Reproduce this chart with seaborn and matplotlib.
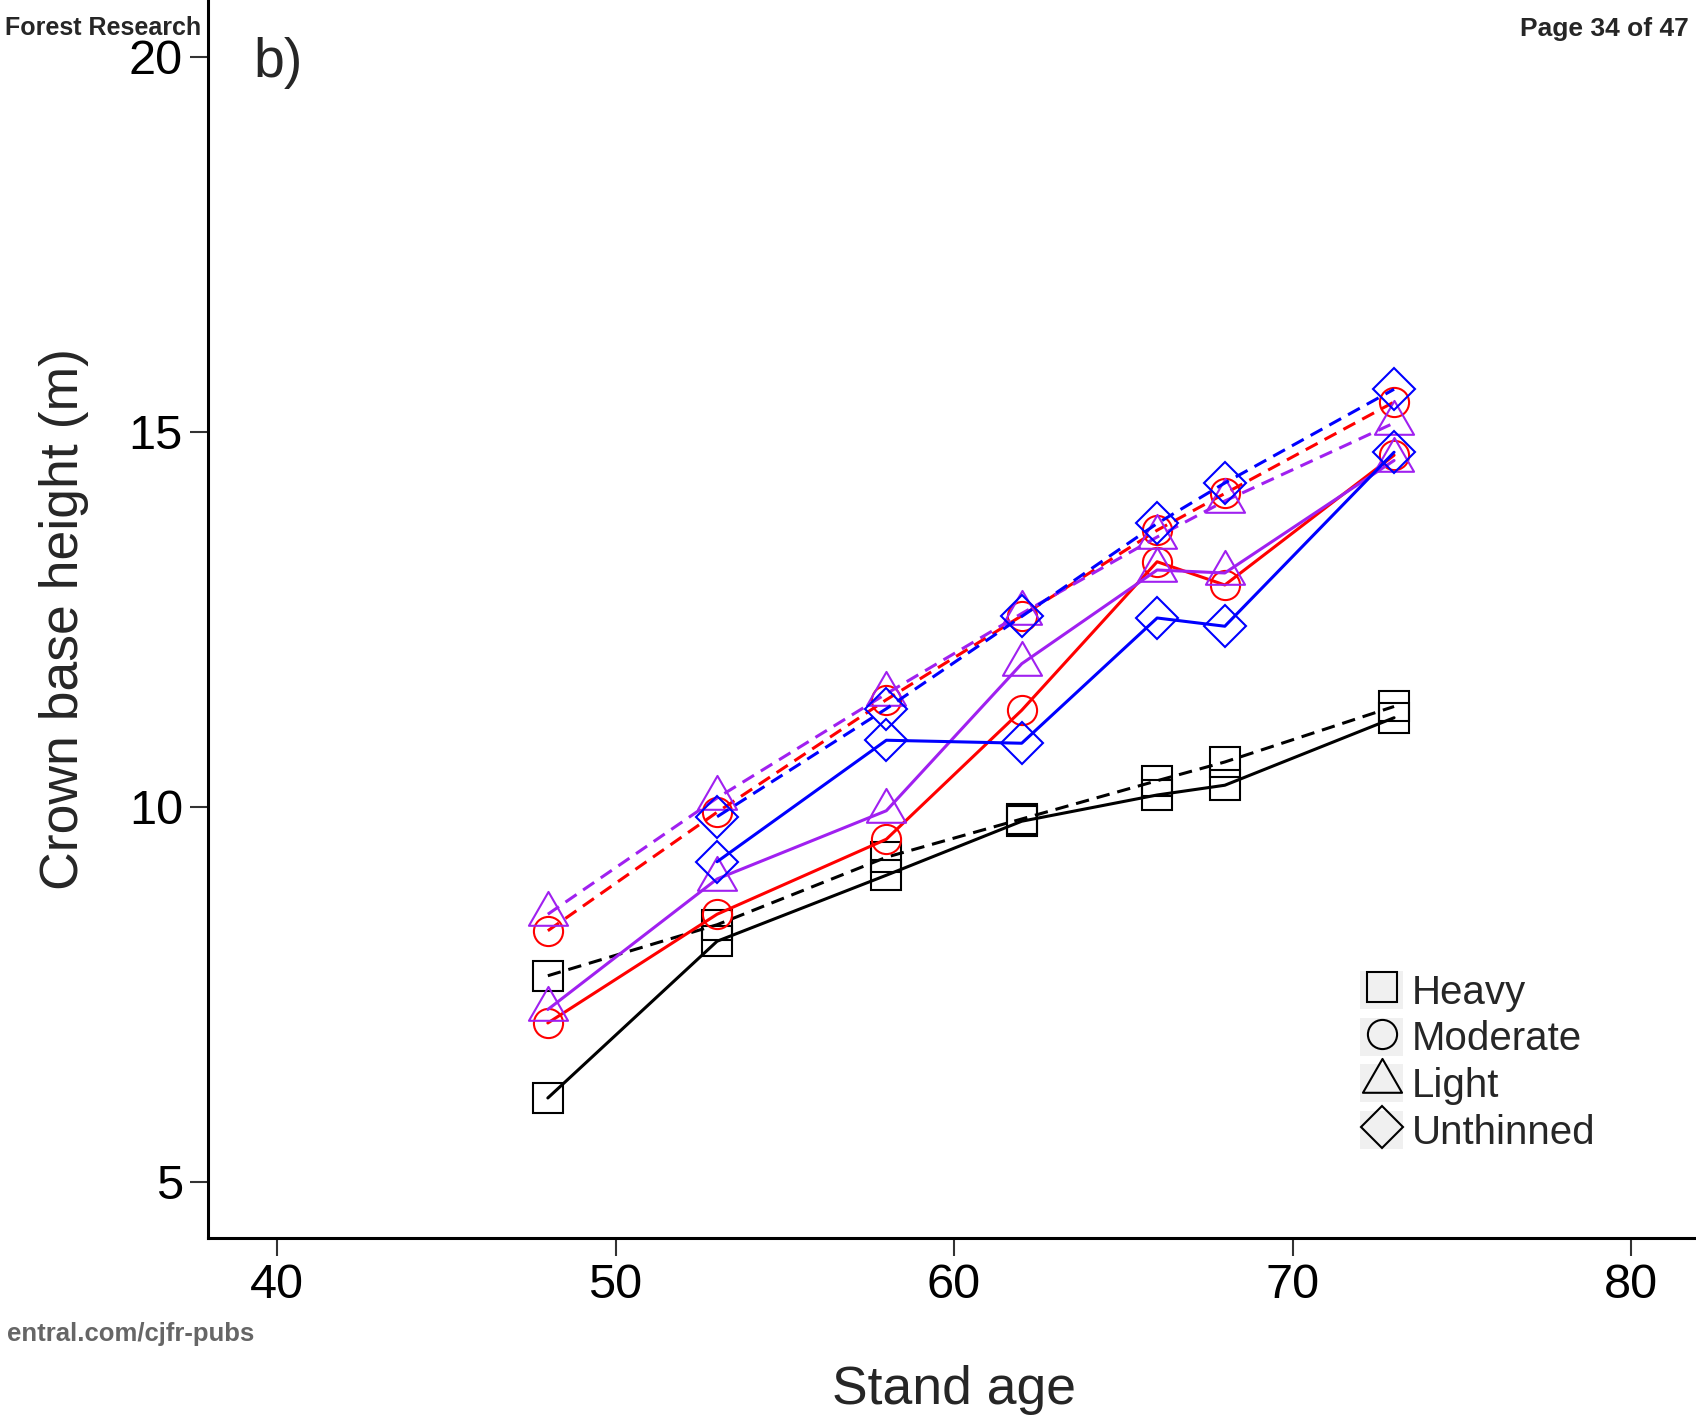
import numpy as np
import pandas as pd
import matplotlib
matplotlib.use("Agg")
import matplotlib.pyplot as plt
import seaborn as sns
from matplotlib.path import Path
from matplotlib.lines import Line2D
from matplotlib.patches import Patch
from matplotlib.legend_handler import HandlerTuple

# ---- data -------------------------------------------------------------
stand_age = [48, 53, 58, 62, 66, 68, 73]
treatments = ["Heavy", "Moderate", "Light", "Unthinned"]

# solid lines
heavy_solid = [6.12, 8.21, 9.09, 9.81, 10.16, 10.29, 11.19]
moderate_solid = [7.12, 8.57, 9.57, 11.29, 13.27, 12.96, 14.69]
light_solid = [7.30, 9.04, 9.95, 11.91, 13.16, 13.12, 14.62]
unthinned_solid = [np.nan, 9.27, 10.89, 10.85, 12.52, 12.41, 14.73]

# dashed lines
heavy_dashed = [7.75, 8.43, 9.33, 9.84, 10.35, 10.60, 11.34]
moderate_dashed = [8.35, 9.93, 11.43, 12.55, 13.69, 14.18, 15.40]
light_dashed = [8.57, 10.12, 11.51, 12.58, 13.60, 14.08, 15.12]
unthinned_dashed = [np.nan, 9.87, 11.31, 12.54, 13.78, 14.32, 15.57]

x_ticks = [40, 50, 60, 70, 80]
y_ticks = [5, 10, 15, 20]

solid_series = [heavy_solid, moderate_solid, light_solid, unthinned_solid]
dashed_series = [heavy_dashed, moderate_dashed, light_dashed, unthinned_dashed]

rows = []
for t, s_vals, d_vals in zip(treatments, solid_series, dashed_series):
    for a, v in zip(stand_age, s_vals):
        rows.append({"age": a, "cbh": v, "treatment": t, "kind": "solid"})
    for a, v in zip(stand_age, d_vals):
        rows.append({"age": a, "cbh": v, "treatment": t, "kind": "dashed"})
df = pd.DataFrame(rows).dropna()

# ---- styling ----------------------------------------------------------
sns.set_style("ticks")
plt.rcParams["font.family"] = ["Liberation Sans", "DejaVu Sans"]

# open triangle whose centre sits at the centroid
tri_verts = [(0.0, 1.555), (-1.347, -0.778), (1.347, -0.778), (0.0, 1.555)]
triangle = Path(tri_verts, [Path.MOVETO, Path.LINETO, Path.LINETO, Path.CLOSEPOLY])

colors = {"Heavy": "#000000", "Moderate": "#FF0000",
          "Light": "#A020F0", "Unthinned": "#0000FF"}
markers = {"Heavy": "s", "Moderate": "o", "Light": triangle, "Unthinned": "D"}
msizes = {"Heavy": 21, "Moderate": 21, "Light": 32.5, "Unthinned": 21}
linestyles = {"solid": "-", "dashed": (0, (4.4, 2.6))}

fig = plt.figure(figsize=(16.96, 14.18), dpi=100)
W, H = 1696, 1418
left_px, bottom_px = 208, 1238
ax = fig.add_axes([left_px / W, (H - bottom_px) / H, 1 - left_px / W, bottom_px / H])

for t in treatments:
    for kind in ["solid", "dashed"]:
        sub = df[(df.treatment == t) & (df.kind == kind)]
        sns.lineplot(data=sub, x="age", y="cbh", ax=ax, color=colors[t],
                     marker=markers[t], markersize=msizes[t],
                     mfc="none", mec=colors[t], mew=1.5,
                     linewidth=2.2, linestyle=linestyles[kind],
                     errorbar=None, legend=False, sort=True)

ax.set_xlim(37.96, 81.92)
ax.set_ylim(4.253, 20.76)
ax.set_xticks(x_ticks)
ax.set_yticks(y_ticks)
ax.set_xticklabels([str(v) for v in x_ticks])
ax.set_yticklabels([str(v) for v in y_ticks])
ax.tick_params(axis="both", which="major", direction="out", length=13,
               width=1.5, color="#333333", labelsize=35, pad=5,
               labelcolor="black")
for side in ["top", "right"]:
    ax.spines[side].set_visible(False)
for side in ["left", "bottom"]:
    ax.spines[side].set_linewidth(2.2)
    ax.spines[side].set_color("black")

ax.set_xlabel("Stand age", fontsize=38.5, va="center")
ax.xaxis.set_label_coords(0.5013, -0.1228)
ax.set_ylabel("Crown base height (m)", fontsize=38.5, va="center")
ax.yaxis.set_label_coords(-0.0968, 0.500)

fig.text(253 / W, 1 - 77 / H, "b)", fontsize=40, ha="left", va="baseline")

# legend: grey key box with a black open marker on top
handles = []
for t in treatments:
    box = Patch(facecolor="#F0F0F0", edgecolor="none")
    mk = Line2D([], [], linestyle="none", marker=markers[t], markersize=msizes[t],
                mfc="none", mec="black", mew=1.5)
    handles.append((box, mk))
fig.legend(handles, treatments, handler_map={tuple: HandlerTuple(ndivide=1, pad=0)},
           loc="upper left", bbox_to_anchor=(1360 / W, 1 - 971 / H),
           frameon=False, fontsize=29, handlelength=1.07, handleheight=1.07,
           handletextpad=0.22, labelspacing=0.15, borderpad=0, borderaxespad=0,
           numpoints=1)

# page header / footer text
fig.text(201 / W, 1 - 35 / H, "Forest Research",
         fontsize=18, fontweight="bold", ha="right", va="baseline")
fig.text(1689 / W, 1 - 36 / H, "Page 34 of 47",
         fontsize=19, fontweight="bold", ha="right", va="baseline")
fig.text(254 / W, 1 - 1341 / H, "entral.com/cjfr-pubs",
         fontsize=18.5, fontweight="bold", ha="right", va="baseline", color="#666666")

fig.savefig("out.png", dpi=100)
